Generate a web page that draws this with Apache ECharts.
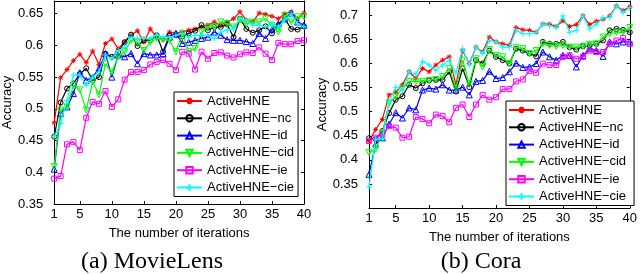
<!DOCTYPE html>
<html><head><meta charset="utf-8">
<script src="https://cdn.jsdelivr.net/npm/echarts@6/dist/echarts.min.js"></script>
<style>html,body{margin:0;padding:0;background:#fff}#c{width:640px;height:274px}</style>
</head><body><div id="c"></div>
<script>
// ---------- data ----------
const iterations = [1,2,3,4,5,6,7,8,9,10,11,12,13,14,15,16,17,18,19,20,21,22,23,24,25,26,27,28,29,30,31,32,33,34,35,36,37,38,39,40];
const xTicks = [1,5,10,15,20,25,30,35,40];
const movieYTicks = [0.35,0.4,0.45,0.5,0.55,0.6,0.65];
const coraYTicks = [0.35,0.4,0.45,0.5,0.55,0.6,0.65,0.7];
const seriesNames = ['ActiveHNE','ActiveHNE\u2212nc','ActiveHNE\u2212id','ActiveHNE\u2212cid','ActiveHNE\u2212ie','ActiveHNE\u2212cie'];
const captions = ['(a) MovieLens','(b) Cora'];
const xAxisTitle = 'The number of iterations';
const yAxisTitle = 'Accuracy';

// MovieLens
const movieActiveHNE = [0.478,0.549,0.562,0.576,0.586,0.573,0.591,0.570,0.603,0.610,0.595,0.605,0.616,0.623,0.605,0.626,0.613,0.609,0.621,0.619,0.621,0.624,0.626,0.629,0.632,0.637,0.632,0.637,0.642,0.653,0.640,0.637,0.651,0.649,0.646,0.642,0.650,0.653,0.642,0.651];
const movieNc = [0.456,0.510,0.532,0.540,0.555,0.564,0.545,0.550,0.587,0.582,0.590,0.605,0.617,0.599,0.608,0.608,0.616,0.590,0.616,0.616,0.614,0.619,0.623,0.632,0.624,0.629,0.629,0.633,0.613,0.642,0.626,0.620,0.624,0.630,0.619,0.632,0.642,0.626,0.625,0.630];
const movieId = [0.405,0.493,0.503,0.524,0.557,0.545,0.550,0.564,0.587,0.550,0.585,0.582,0.587,0.571,0.587,0.585,0.585,0.587,0.613,0.619,0.603,0.605,0.608,0.611,0.613,0.621,0.616,0.609,0.608,0.608,0.606,0.603,0.619,0.611,0.625,0.634,0.642,0.651,0.637,0.632];
const movieCid = [0.409,0.498,0.503,0.537,0.530,0.498,0.543,0.522,0.571,0.558,0.582,0.590,0.608,0.605,0.592,0.605,0.611,0.609,0.608,0.590,0.619,0.590,0.595,0.621,0.629,0.629,0.637,0.634,0.629,0.640,0.634,0.637,0.637,0.642,0.632,0.621,0.647,0.637,0.645,0.645];
const movieIe = [0.390,0.394,0.444,0.448,0.435,0.486,0.511,0.508,0.528,0.503,0.515,0.546,0.558,0.558,0.561,0.570,0.574,0.577,0.571,0.561,0.590,0.587,0.562,0.590,0.579,0.588,0.589,0.584,0.581,0.586,0.589,0.588,0.597,0.587,0.577,0.604,0.602,0.602,0.607,0.608];
const movieCie = [0.456,0.477,0.513,0.553,0.553,0.537,0.550,0.558,0.585,0.579,0.592,0.597,0.613,0.611,0.611,0.611,0.616,0.613,0.613,0.616,0.619,0.613,0.616,0.616,0.616,0.611,0.621,0.624,0.626,0.642,0.640,0.632,0.632,0.629,0.634,0.629,0.640,0.650,0.634,0.629];

// Cora
const coraActiveHNE = [0.439,0.463,0.484,0.535,0.540,0.556,0.583,0.569,0.590,0.583,0.597,0.607,0.614,0.556,0.627,0.600,0.634,0.624,0.655,0.645,0.641,0.638,0.675,0.670,0.669,0.665,0.682,0.682,0.677,0.689,0.677,0.681,0.699,0.681,0.688,0.692,0.699,0.720,0.710,0.718];
const coraNc = [0.445,0.443,0.460,0.497,0.525,0.532,0.556,0.549,0.559,0.565,0.566,0.566,0.583,0.542,0.590,0.551,0.607,0.600,0.627,0.614,0.607,0.600,0.631,0.627,0.621,0.615,0.645,0.641,0.641,0.645,0.634,0.629,0.636,0.638,0.641,0.648,0.669,0.672,0.670,0.665];
const coraId = [0.370,0.433,0.446,0.474,0.498,0.487,0.508,0.504,0.545,0.549,0.547,0.556,0.545,0.545,0.551,0.535,0.563,0.565,0.584,0.569,0.571,0.583,0.601,0.592,0.593,0.600,0.624,0.614,0.607,0.617,0.617,0.593,0.617,0.631,0.627,0.615,0.645,0.641,0.645,0.645];
const coraCid = [0.415,0.422,0.456,0.518,0.532,0.549,0.563,0.563,0.563,0.565,0.567,0.573,0.590,0.549,0.607,0.559,0.610,0.593,0.629,0.617,0.614,0.600,0.634,0.631,0.621,0.627,0.641,0.638,0.636,0.638,0.634,0.634,0.636,0.640,0.641,0.655,0.662,0.665,0.665,0.675];
const coraIe = [0.439,0.446,0.453,0.470,0.467,0.446,0.448,0.489,0.485,0.476,0.494,0.491,0.478,0.508,0.515,0.489,0.515,0.535,0.525,0.530,0.547,0.547,0.563,0.567,0.585,0.581,0.600,0.597,0.597,0.614,0.617,0.610,0.614,0.627,0.624,0.624,0.641,0.648,0.653,0.641];
const coraCie = [0.344,0.443,0.443,0.521,0.551,0.545,0.583,0.578,0.604,0.597,0.586,0.597,0.607,0.580,0.631,0.597,0.634,0.621,0.648,0.645,0.634,0.634,0.669,0.662,0.662,0.665,0.682,0.679,0.675,0.699,0.665,0.669,0.699,0.672,0.682,0.695,0.696,0.720,0.706,0.716];

const movieData = [movieActiveHNE, movieNc, movieId, movieCid, movieIe, movieCie];
const coraData = [coraActiveHNE, coraNc, coraId, coraCid, coraIe, coraCie];

// ---------- styles ----------
const FONT = 'Liberation Sans';
const colors = ['#ff0000','#000000','#0000ff','#00ff00','#ff00ff','#00ffff'];
const STAR = 'path://M0,-1L0,1M-1,0L1,0M-0.7,-0.7L0.7,0.7M-0.7,0.7L0.7,-0.7';
const PLUS = 'path://M0,-1L0,1M-1,0L1,0';
const symbols = [STAR,'circle','triangle','triangle','rect',PLUS];
const symbolRot = [0,0,0,180,0,0];
const symbolSizes = [5,5,6,6,5,6];

const grids = [
  {left:45, top:1, width:259, height:203},
  {left:369, top:1, width:264, height:207}
];
const yRanges = [[0.35,0.67],[0.3,0.73]];
const yTickSets = [movieYTicks, coraYTicks];
const yNameGaps = [32, 33];

const xAxes = [], yAxes = [], series = [];
const tickStyle = {color:'#000', width:1};
[0,1].forEach(p => {
  xAxes.push({gridIndex:p, type:'value', min:1, max:40, position:'bottom',
    axisLine:{show:true, onZero:false, lineStyle:tickStyle},
    axisTick:{show:true, inside:true, length:3, customValues:xTicks, lineStyle:tickStyle},
    axisLabel:{show:true, customValues:xTicks, color:'#000', fontSize:13, fontFamily:FONT, margin:4},
    splitLine:{show:false},
    name:xAxisTitle, nameLocation:'middle', nameGap:23,
    nameTextStyle:{color:'#000', fontSize:13, fontFamily:FONT}});
  xAxes.push({gridIndex:p, type:'value', min:1, max:40, position:'top',
    axisLine:{show:true, onZero:false, lineStyle:tickStyle},
    axisTick:{show:true, inside:true, length:3, customValues:xTicks, lineStyle:tickStyle},
    axisLabel:{show:false}, splitLine:{show:false}});
  yAxes.push({gridIndex:p, type:'value', min:yRanges[p][0], max:yRanges[p][1], position:'left',
    axisLine:{show:true, onZero:false, lineStyle:tickStyle},
    axisTick:{show:true, inside:true, length:3, customValues:yTickSets[p], lineStyle:tickStyle},
    axisLabel:{show:true, customValues:yTickSets[p], color:'#000', fontSize:13, fontFamily:FONT, margin:11},
    splitLine:{show:false},
    name:yAxisTitle, nameLocation:'middle', nameGap:yNameGaps[p], nameRotate:90,
    nameTextStyle:{color:'#000', fontSize:13, fontFamily:FONT}});
  yAxes.push({gridIndex:p, type:'value', min:yRanges[p][0], max:yRanges[p][1], position:'right',
    axisLine:{show:true, onZero:false, lineStyle:tickStyle},
    axisTick:{show:true, inside:true, length:3, customValues:yTickSets[p], lineStyle:tickStyle},
    axisLabel:{show:false}, splitLine:{show:false}});
  const dataSet = p === 0 ? movieData : coraData;
  seriesNames.forEach((nm, k) => {
    series.push({
      name:nm, type:'line', xAxisIndex:2*p, yAxisIndex:2*p,
      data: iterations.map((x,i) => [x, dataSet[k][i]]),
      symbol:symbols[k], symbolSize:symbolSizes[k], symbolRotate:symbolRot[k],
      showAllSymbol:true,
      lineStyle:{color:colors[k], width:1.2},
      itemStyle:{color:'transparent', borderColor:colors[k], borderWidth:1},
      emphasis:{disabled:true}, silent:true, z:2+k
    });
  });
});

const legendBase = {
  data: seriesNames, orient:'vertical', backgroundColor:'#fff',
  borderColor:'#000', borderWidth:1, itemWidth:25, itemHeight:8, itemGap:3.3,
  textStyle:{color:'#000', fontSize:13, fontFamily:FONT, lineHeight:14},
  selectedMode:false
};

const chart = echarts.init(document.getElementById('c'), null, {renderer:'canvas'});
chart.setOption({
  animation:false,
  backgroundColor:'#fff',
  grid: grids,
  xAxis: xAxes, yAxis: yAxes, series: series,
  legend: [
    Object.assign({}, legendBase, {left:174, top:92, padding:[2,4,2,2]}),
    Object.assign({}, legendBase, {left:506, top:101, padding:[2,8,2,2]})
  ],
  graphic: [
    {type:'text', x:152, y:262, style:{text:captions[0], font:'24px "Liberation Serif"', fill:'#000', textAlign:'center', textVerticalAlign:'middle'}},
    {type:'text', x:481, y:262, style:{text:captions[1], font:'24px "Liberation Serif"', fill:'#000', textAlign:'center', textVerticalAlign:'middle'}}
  ]
});
</script></body></html>
